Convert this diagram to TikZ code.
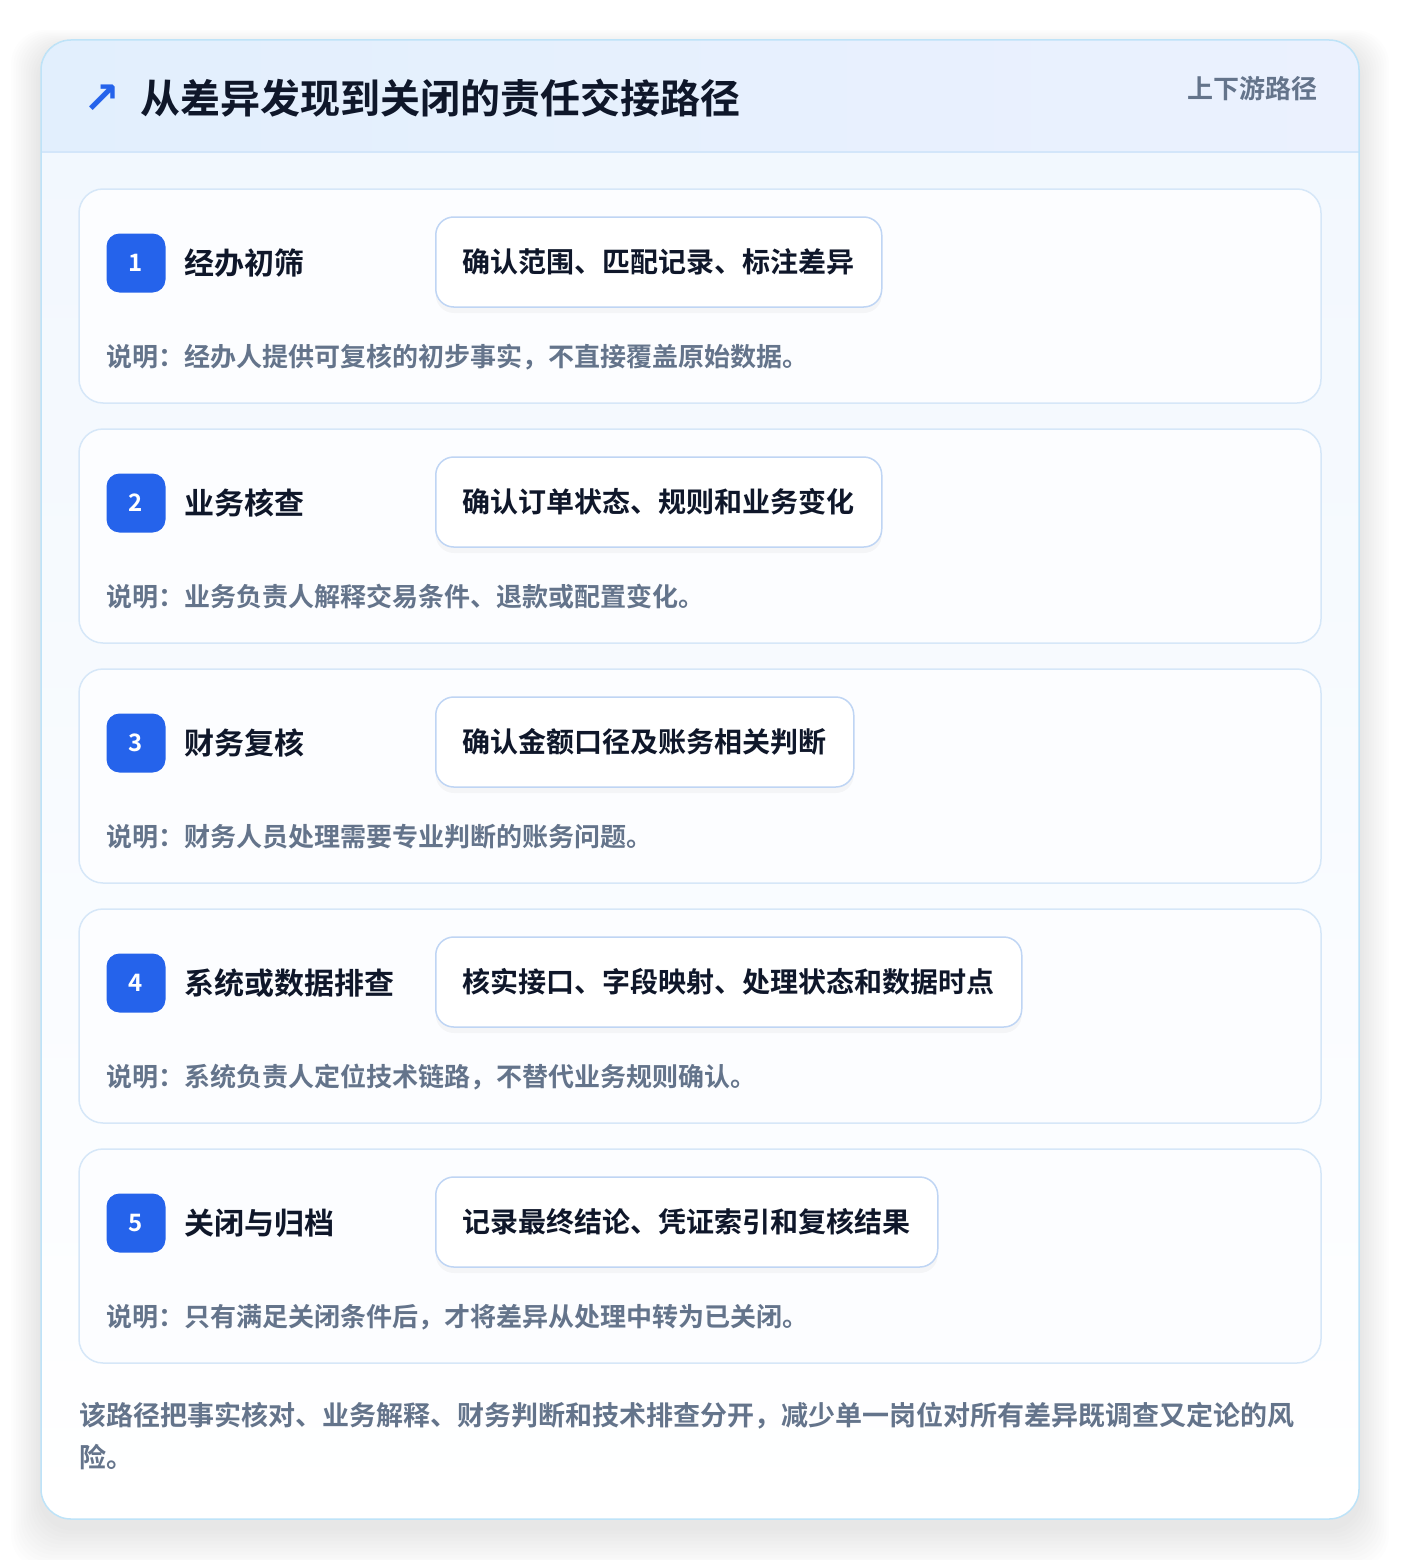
\documentclass[tikz,border=0pt]{standalone}
\usepackage{fontspec}
\setmainfont{Noto Sans CJK SC}[BoldFont={Noto Sans CJK SC Bold}]
\newfontfamily\symfont{DejaVu Sans}
\definecolor{ink}{HTML}{0F172A}
\definecolor{slate}{HTML}{64748B}
\definecolor{badgeblue}{HTML}{2563EB}
\definecolor{cardline}{HTML}{D6E7F8}
\definecolor{pillline}{HTML}{BFD5F4}
\definecolor{outline}{HTML}{BEE3F8}
\definecolor{headL}{HTML}{E2EFFD}
\definecolor{headR}{HTML}{EBF1FE}
\definecolor{headline}{HTML}{D3E6FA}
\definecolor{bodytop}{HTML}{F1F7FE}
\definecolor{cardbg}{HTML}{FCFDFF}
\begin{document}
\begin{tikzpicture}[x=1pt,y=-1pt,
    card/.style={draw=cardline,fill=cardbg,line width=1.5pt,rounded corners=24pt,minimum width=1242pt,minimum height=214pt},
    badge/.style={fill=badgeblue,text=white,rounded corners=13pt,minimum size=59pt,inner sep=0pt,font=\fontsize{24}{24}\selectfont\bfseries},
    stepname/.style={anchor=west,text=ink,inner sep=0pt,font=\fontsize{30}{30}\selectfont\bfseries},
    pill/.style={anchor=west,draw=pillline,fill=white,line width=1.5pt,rounded corners=18pt,minimum height=90pt,inner xsep=27pt,text=ink,font=\fontsize{28}{28}\selectfont\bfseries,
        preaction={fill=black,opacity=0.03,transform canvas={yshift=-6pt}}},
    note/.style={anchor=west,text=slate,inner sep=0pt,font=\fontsize{26}{26}\selectfont\bfseries}]

    \useasboundingbox (0,0) rectangle (1400,1560);
    \fill[white] (0,0) rectangle (1400,1560);
    \foreach \i in {1,...,12}
        \fill[black,opacity=0.009,rounded corners=34pt] (41-\i*2.5,48-\i*1.5) rectangle (1359+\i*2.5,1527+\i*3.5);

    \fill[rounded corners=30pt,top color=bodytop,bottom color=white] (41,40) rectangle (1359,1519);
    \begin{scope}
        \clip[rounded corners=30pt] (41,40) rectangle (1359,1519);
        \fill[left color=headL,right color=headR] (41,40) rectangle (1359,152);
        \draw[headline,line width=1.5pt] (41,152) -- (1359,152);
    \end{scope}
    \draw[outline,line width=1.5pt,rounded corners=30pt] (41,40) rectangle (1359,1519);

    \node at (102,99) (A) [text=badgeblue,inner sep=0pt,font=\symfont\bfseries\fontsize{44}{44}\selectfont] {↗};
    \node at (140,98) (T) [anchor=west,text=ink,inner sep=0pt,font=\fontsize{40}{40}\selectfont\bfseries] {从差异发现到关闭的责任交接路径};
    \node at (1318,89) (H) [anchor=east,text=slate,inner sep=0pt,font=\fontsize{26}{26}\selectfont\bfseries] {上下游路径};

    \node at (700,296) (C1) [card] {};
    \node at (136,263) (S1) [badge] {1};
    \node at (184,263) (N1) [stepname] {经办初筛};
    \node at (435,262) (P1) [pill] {确认范围、匹配记录、标注差异};
    \node at (106,357) (D1) [note] {说明：经办人提供可复核的初步事实，不直接覆盖原始数据。};

    \node at (700,536) (C2) [card] {};
    \node at (136,503) (S2) [badge] {2};
    \node at (184,503) (N2) [stepname] {业务核查};
    \node at (435,502) (P2) [pill] {确认订单状态、规则和业务变化};
    \node at (106,597) (D2) [note] {说明：业务负责人解释交易条件、退款或配置变化。};

    \node at (700,776) (C3) [card] {};
    \node at (136,743) (S3) [badge] {3};
    \node at (184,743) (N3) [stepname] {财务复核};
    \node at (435,742) (P3) [pill] {确认金额口径及账务相关判断};
    \node at (106,837) (D3) [note] {说明：财务人员处理需要专业判断的账务问题。};

    \node at (700,1016) (C4) [card] {};
    \node at (136,983) (S4) [badge] {4};
    \node at (184,983) (N4) [stepname] {系统或数据排查};
    \node at (435,982) (P4) [pill] {核实接口、字段映射、处理状态和数据时点};
    \node at (106,1077) (D4) [note] {说明：系统负责人定位技术链路，不替代业务规则确认。};

    \node at (700,1256) (C5) [card] {};
    \node at (136,1223) (S5) [badge] {5};
    \node at (184,1223) (N5) [stepname] {关闭与归档};
    \node at (435,1222) (P5) [pill] {记录最终结论、凭证索引和复核结果};
    \node at (106,1317) (D5) [note] {说明：只有满足关闭条件后，才将差异从处理中转为已关闭。};

    \node at (79,1436) (F) [anchor=west,align=left,text=slate,inner sep=0pt,font=\fontsize{27}{42}\selectfont\bfseries]
        {该路径把事实核对、业务解释、财务判断和技术排查分开，减少单一岗位对所有差异既调查又定论的风\\险。};
\end{tikzpicture}
\end{document}
